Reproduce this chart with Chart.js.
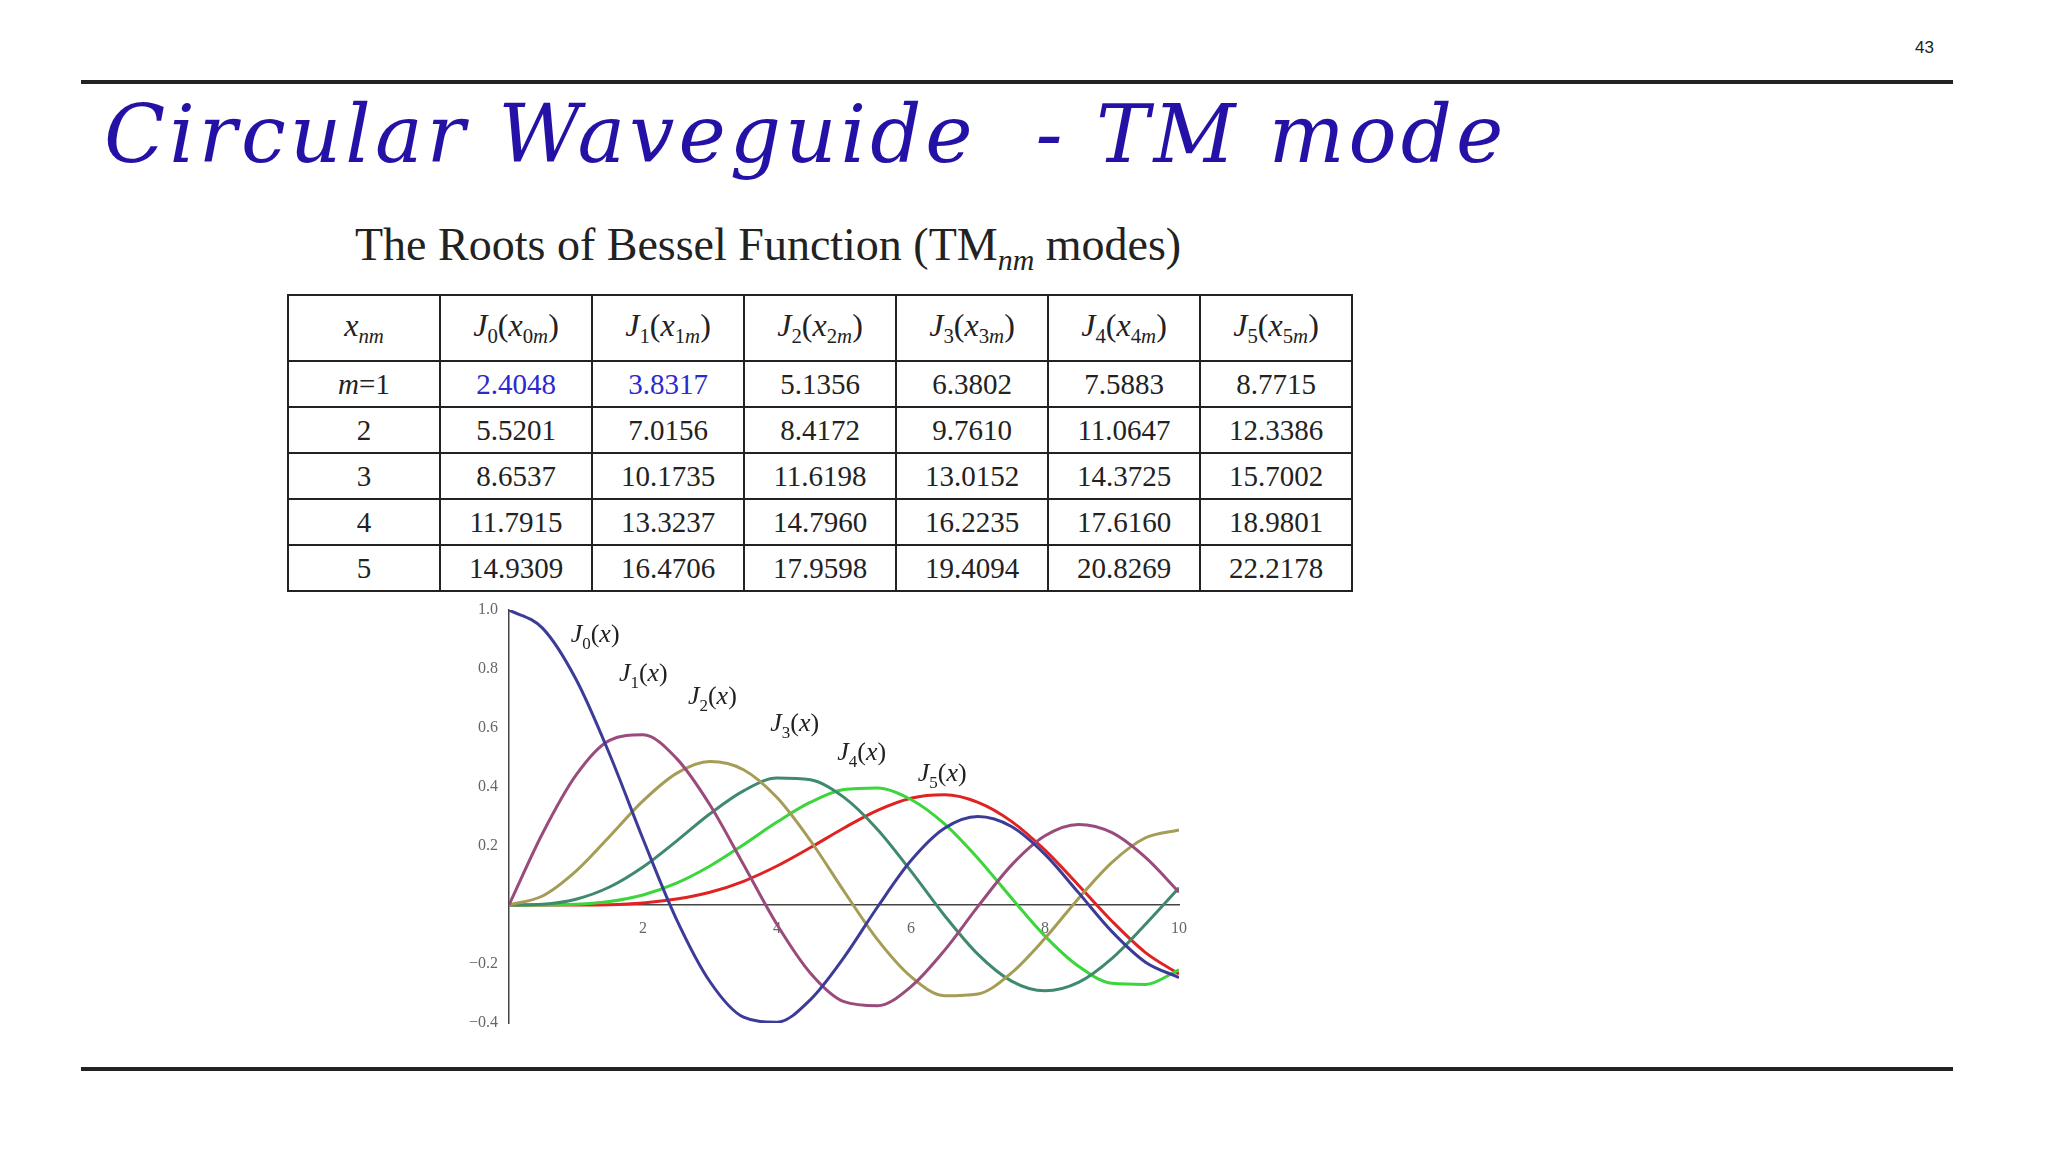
<!DOCTYPE html>
<html><head><meta charset="utf-8">
<script src="https://cdn.jsdelivr.net/npm/chart.js@4"></script>
<style>
body{margin:0;width:2048px;height:1152px;background:#fff;position:relative;overflow:hidden;font-family:"Liberation Serif",serif}
.hl{position:absolute;left:81px;width:1872px;height:4px;background:#222}
#title{position:absolute;left:104px;top:88px;font:italic 80px "DejaVu Serif",serif;color:#2412a6;letter-spacing:4px}
#pn{position:absolute;left:1915px;top:38px;font:17px Arial,sans-serif;color:#222}
#sub{position:absolute;left:355px;top:218px;font:46px "Liberation Serif",serif;color:#222}
table{position:absolute;left:287px;top:294px;border-collapse:collapse;font-size:29px;color:#222}
td{border:2px solid #222;text-align:center;width:150px;height:44px;padding:0}
tr.h td{height:64px;font-size:32px}
i{font-style:italic}
sub{font-size:65%}
.b{color:#2a2ad0}
#wrap{position:absolute;left:400px;top:590px;width:820px;height:460px}
</style></head><body>
<div id="pn">43</div>
<div class="hl" style="top:80px"></div>
<div class="hl" style="top:1067px"></div>
<div id="title">Circular Waveguide&nbsp; - TM mode</div>
<div id="sub">The Roots of Bessel Function (TM<sub><i>nm</i></sub> modes)</div>
<table id="tbl"></table>
<div id="wrap"><canvas id="c" width="820" height="460"></canvas></div>
<script>
const xs=[0,0.5,1,1.5,2,2.5,3,3.5,4,4.5,5,5.5,6,6.5,7,7.5,8,8.5,9,9.5,10];
const J0=[1,0.9385,0.7652,0.5118,0.2239,-0.0484,-0.2601,-0.3801,-0.3971,-0.3205,-0.1776,-0.0068,0.1506,0.2601,0.3001,0.2663,0.1717,0.0419,-0.0903,-0.1939,-0.2459];
const J1=[0,0.2423,0.4401,0.5579,0.5767,0.4971,0.3391,0.1374,-0.0660,-0.2311,-0.3276,-0.3414,-0.2767,-0.1538,-0.0047,0.1352,0.2346,0.2731,0.2453,0.1613,0.0435];
const J2=[0,0.0306,0.1149,0.2321,0.3528,0.4461,0.4861,0.4586,0.3641,0.2178,0.0466,-0.1173,-0.2429,-0.3074,-0.3014,-0.2302,-0.1130,0.0223,0.1448,0.2279,0.2546];
const J3=[0,0.0026,0.0196,0.0610,0.1289,0.2167,0.3091,0.3868,0.4302,0.4247,0.3648,0.2561,0.1148,-0.0354,-0.1676,-0.2581,-0.2911,-0.2626,-0.1809,-0.0653,0.0584];
const J4=[0,0.0002,0.0025,0.0118,0.0340,0.0738,0.1320,0.2044,0.2811,0.3484,0.3912,0.3967,0.3576,0.2748,0.1578,0.0238,-0.1054,-0.2077,-0.2655,-0.2691,-0.2196];
const J5=[0,0.0000,0.0002,0.0012,0.0070,0.0200,0.0430,0.0804,0.1321,0.1947,0.2611,0.3209,0.3621,0.3736,0.3479,0.2835,0.1858,0.0671,-0.0550,-0.1613,-0.2341];
const seriesNames=["J0","J1","J2","J3","J4","J5"];
const seriesColors=["#3c3c98","#9a4b7c","#a59c55","#3f8a6c","#3ad63a","#e02222"];
const labelX=[0.92,1.64,2.67,3.9,4.9,6.1];
const labelY=[0.89,0.76,0.68,0.59,0.49,0.42];
const rowLabels=["m=1","2","3","4","5"];
const roots=[[2.4048,3.8317,5.1356,6.3802,7.5883,8.7715],[5.5201,7.0156,8.4172,9.7610,11.0647,12.3386],[8.6537,10.1735,11.6198,13.0152,14.3725,15.7002],[11.7915,13.3237,14.7960,16.2235,17.6160,18.9801],[14.9309,16.4706,17.9598,19.4094,20.8269,22.2178]];
const xTicks=[2,4,6,8,10];

let h='<tr class="h"><td><i>x</i><sub><i>nm</i></sub></td>';
for(let n=0;n<6;n++)h+=`<td><i>J</i><sub>${n}</sub>(<i>x</i><sub>${n}<i>m</i></sub>)</td>`;
h+='</tr>';
roots.forEach((r,i)=>{h+='<tr><td>'+(i==0?'<i>m</i>=1':rowLabels[i])+'</td>';
 r.forEach((v,j)=>{h+=`<td${i==0&&j<2?' class="b"':''}>${v.toFixed(4)}</td>`});h+='</tr>';});
document.getElementById('tbl').innerHTML=h;

const all=[J0,J1,J2,J3,J4,J5];
const labelPlugin={id:'lbl',afterDatasetsDraw(ch){const c=ch.ctx,xs_=ch.scales.x,ys=ch.scales.y;c.save();c.fillStyle='#222';
 for(let i=0;i<6;i++){const px=xs_.getPixelForValue(labelX[i]),py=ys.getPixelForValue(labelY[i]);
  c.font='italic 26px "Liberation Serif"';c.fillText('J',px,py);let w=c.measureText('J').width;
  c.font='17px "Liberation Serif"';c.fillText(String(i),px+w,py+7);let w2=c.measureText(String(i)).width;
  c.font='26px "Liberation Serif"';c.fillText('(',px+w+w2,py);let w3=c.measureText('(').width;
  c.font='italic 26px "Liberation Serif"';c.fillText('x',px+w+w2+w3,py);let w4=c.measureText('x').width;
  c.font='26px "Liberation Serif"';c.fillText(')',px+w+w2+w3+w4,py);}
 c.restore();}};
new Chart(document.getElementById('c'),{type:'line',
 data:{labels:xs,datasets:all.map((d,i)=>({label:seriesNames[i],data:d.map((v,k)=>({x:xs[k],y:v})),borderColor:seriesColors[i],borderWidth:3,pointRadius:0,cubicInterpolationMode:'monotone',fill:false}))},
 options:{responsive:false,animation:false,maintainAspectRatio:false,devicePixelRatio:1,
  layout:{padding:{left:49,right:41,top:20,bottom:27}},
  plugins:{legend:{display:false},tooltip:{enabled:false}},
  scales:{
   x:{type:'linear',min:0,max:10,position:{y:0},grid:{display:false,drawTicks:true},border:{color:'#444',width:1.5},
      afterFit(s){s.height=0},
      afterBuildTicks(s){s.ticks=xTicks.map(v=>({value:v}))},
      ticks:{font:{family:'Liberation Serif',size:16},color:'#666',padding:6}},
   y:{type:'linear',min:-0.4,max:1.0,grid:{display:false},border:{color:'#444',width:1.5},
      afterFit(s){s.width=60},
      ticks:{stepSize:0.2,font:{family:'Liberation Serif',size:16},color:'#666',
        callback:v=>Math.abs(v)<1e-9?'':(v<0?'\u2212'+Math.abs(v).toFixed(1):v.toFixed(1))}}
  }},plugins:[labelPlugin]});
</script>
</body></html>
